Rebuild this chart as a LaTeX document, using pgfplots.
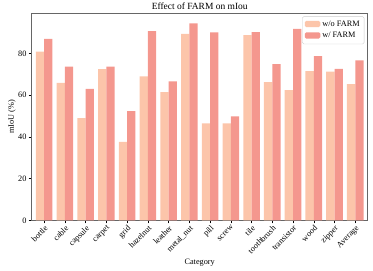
\documentclass[border=0pt]{standalone}
\usepackage{fontspec}
\setmainfont{Liberation Serif}
\usepackage{pgfplots}
\pgfplotsset{compat=1.18}
\definecolor{cA}{HTML}{FCC5AA}
\definecolor{cB}{HTML}{F4978E}
\begin{document}
\begin{tikzpicture}
\begin{axis}[
  name=ax,
  scale only axis,
  width=336bp, height=207bp,
  xmin=-0.6, xmax=15.6, ymin=0, ymax=99.2,
  ybar, bar width=0.4, bar shift auto,
  xtick={0,...,15},
  xticklabels={bottle,cable,capsule,carpet,grid,hazelnut,leather,metal\_nut,pill,screw,tile,toothbrush,transistor,wood,zipper,Average},
  xticklabel style={rotate=45, anchor=north east, font=\fontsize{8.3}{9}\selectfont, inner sep=1pt},
  ytick={0,20,40,60,80},
  yticklabel style={font=\fontsize{8.3}{9}\selectfont, inner sep=2pt},
  /pgf/number format/assume math mode=true,
  tick align=outside, tick pos=left,
  major tick length=3bp,
  axis line style={gray!80!black, line width=0.6pt},
  tick style={black, line width=0.5pt},
  title={Effect of FARM on mIou},
  title style={font=\fontsize{9.5}{10}\selectfont, yshift=-5.5pt},
  xlabel={Category}, ylabel={mIoU (\%)},
  label style={font=\fontsize{8.3}{9}\selectfont},
  ylabel style={yshift=-3pt},
  xlabel style={yshift=0pt},
  legend style={at={(0.99,0.985)}, anchor=north east, font=\fontsize{8.3}{9}\selectfont, draw=gray!40, rounded corners=1.5pt, row sep=0.5pt, inner sep=2.5pt},
  legend image code/.code={\draw[#1, draw=none] (0cm,-0.09cm) rectangle (0.55cm,0.13cm);},
  legend cell align=left,
]
\addplot[fill=cA, draw=none, bar shift=-0.2] coordinates {
(0,80.8) (1,65.9) (2,49.0) (3,72.5) (4,37.6) (5,69.0) (6,61.4) (7,89.4) (8,46.4) (9,46.4) (10,88.8) (11,66.2) (12,62.4) (13,71.5) (14,71.2) (15,65.3)};
\addplot[fill=cB, draw=none, bar shift=0.2] coordinates {
(0,86.9) (1,73.6) (2,63.0) (3,73.6) (4,52.3) (5,90.7) (6,66.6) (7,94.4) (8,90.1) (9,49.8) (10,90.2) (11,74.9) (12,91.7) (13,78.7) (14,72.6) (15,76.6)};
\legend{w/o FARM, w/ FARM}
\end{axis}
\pgfresetboundingbox
\path[use as bounding box] (ax.south west) ++(-31.7bp,-49.9bp) rectangle ([xshift=5.3bp,yshift=13.3bp]ax.north east);
\end{tikzpicture}
\end{document}
